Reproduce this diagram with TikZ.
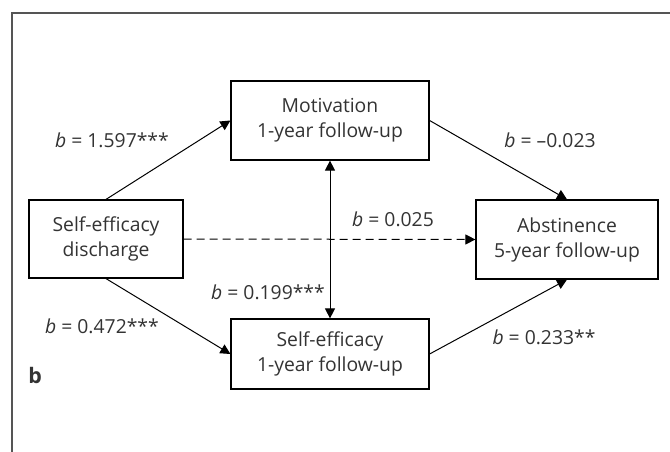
\documentclass[tikz,border=0pt]{standalone}
\usepackage{fontspec}
\setmainfont{Open Sans}
\usetikzlibrary{arrows.meta}
\definecolor{txt}{HTML}{333333}
\definecolor{rule}{HTML}{555555}
\tikzset{
  box/.style={
    draw, line width=0.9pt,
    align=center, inner sep=0pt,
    text=txt,
  },
  path/.style={
    line width=0.75pt,
    -{Triangle[length=7.5pt,width=7.5pt]},
  },
  lbl/.style={
    text=txt, inner sep=0pt,
  },
}

\begin{document}
\begin{tikzpicture}[x=0.75pt, y=-0.75pt, font=\fontsize{14.5}{18.75}\selectfont]
\useasboundingbox (0,0) rectangle (670,452);
\draw[rule, line width=1pt] (12,452) |- (670,13);

\node[box, minimum width=115.5pt, minimum height=58.5pt] (disc) at (106,239) {Self-efficacy\\discharge};
\node[box, minimum width=148.5pt, minimum height=59.25pt] (mot) at (330,120.5) {Motivation\\1-year follow-up};
\node[box, minimum width=148.5pt, minimum height=52.5pt] (self) at (330,354) {Self-efficacy\\1-year follow-up};
\node[box, minimum width=136.5pt, minimum height=59.25pt] (abst) at (567,239.5) {Abstinence\\5-year follow-up};

\draw[path] (disc.north) -- (mot.west);
\draw[path] (disc.south) -- (self.west);
\draw[path] (mot.east) -- (abst.north);
\draw[path] (self.east) -- (abst.south);
\draw[path, dash pattern=on 6pt off 3.75pt] (disc.east) -- (abst.west);
\draw[path, {Triangle[length=7.5pt,width=7.5pt]}-{Triangle[length=7.5pt,width=7.5pt]}] (mot.south) -- (self.north);

\node[lbl] (b-dm) at (112,140) {\textit{b} = 1.597***};
\node[lbl] (b-ma) at (550,140) {\textit{b} = –0.023};
\node[lbl] (b-da) at (393,219) {\textit{b} = 0.025};
\node[lbl] (b-ms) at (268,292) {\textit{b} = 0.199***};
\node[lbl] (b-ds) at (102,326) {\textit{b} = 0.472***};
\node[lbl] (b-sa) at (544,337) {\textit{b} = 0.233**};
\node[lbl, font=\fontsize{16}{18.75}\selectfont\bfseries] (panel) at (35,375) {b};
\end{tikzpicture}
\end{document}
